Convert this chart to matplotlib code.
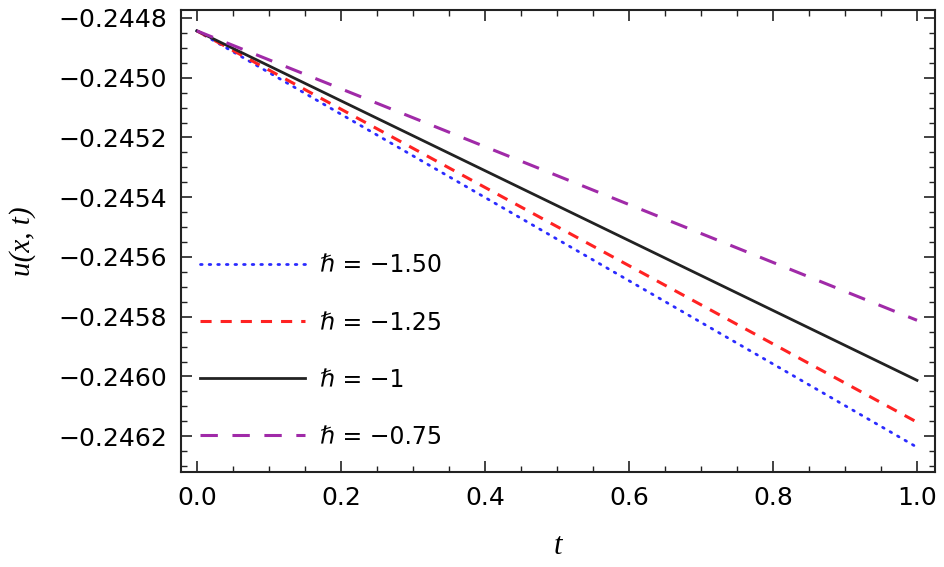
import numpy as np
import matplotlib
matplotlib.use('Agg')
import matplotlib.pyplot as plt
from matplotlib.ticker import MultipleLocator, FixedLocator

# values (straight lines in t)
t = [0.0, 1.0]
u_m150 = [-0.244843, -0.246237]
u_m125 = [-0.244843, -0.246153]
u_m100 = [-0.244843, -0.246013]
u_m075 = [-0.244843, -0.245812]

labels = ['ℏ = −1.50', 'ℏ = −1.25', 'ℏ = −1', 'ℏ = −0.75']
yticks = [-0.2448, -0.2450, -0.2452, -0.2454, -0.2456, -0.2458, -0.2460, -0.2462]
xticks = [0.0, 0.2, 0.4, 0.6, 0.8, 1.0]

plt.rcParams['lines.scale_dashes'] = False

fig = plt.figure(figsize=(9.45, 5.67), dpi=100)
ax = fig.add_axes([0.1915, 0.1675, 0.7979, 0.815])

ax.plot(t, u_m150, color='#2b2bff', lw=2.0, ls=(0, (1.2, 5.0)), dash_capstyle='round', label=labels[0])
ax.plot(t, u_m125, color='#ff2222', lw=2.2, ls=(0, (8, 6.5)), label=labels[1])
ax.plot(t, u_m100, color='#222222', lw=2.0, ls='-', label=labels[2])
ax.plot(t, u_m075, color='#a02aa8', lw=2.2, ls=(0, (12.5, 10.5)), label=labels[3])

ax.set_xlim(-0.022, 1.025)
ax.set_ylim(-0.246320, -0.244773)

ax.xaxis.set_major_locator(FixedLocator(xticks))
ax.xaxis.set_minor_locator(MultipleLocator(0.05))
ax.yaxis.set_major_locator(FixedLocator(yticks))
ax.yaxis.set_minor_locator(MultipleLocator(0.00005))
ax.set_yticklabels([f'−{abs(v):.4f}' for v in yticks], family='DejaVu Sans', fontsize=18)
ax.set_xticklabels([f'{v:.1f}' for v in xticks], family='DejaVu Sans', fontsize=18)
ax.tick_params(which='both', direction='in', top=True, right=True, color='#222222')
ax.tick_params(which='major', length=8, width=1.2)
ax.tick_params(which='minor', length=4.5, width=1.0)
ax.tick_params(axis='y', pad=10)
ax.tick_params(axis='x', pad=10)
for s in ax.spines.values():
    s.set_linewidth(1.5)
    s.set_color('#222222')

ax.set_xlabel('t', family='Liberation Serif', style='italic', fontsize=22, labelpad=16)
ax.set_ylabel('u(x, t)', family='Liberation Serif', style='italic', fontsize=21, labelpad=16)

ax.legend(loc='upper left', bbox_to_anchor=(0.025, 0.473), frameon=False,
          prop={'family': 'DejaVu Sans', 'size': 17}, handlelength=4.45,
          handletextpad=0.64, labelspacing=1.4, borderpad=0, borderaxespad=0)

fig.savefig('out.png', dpi=100)
